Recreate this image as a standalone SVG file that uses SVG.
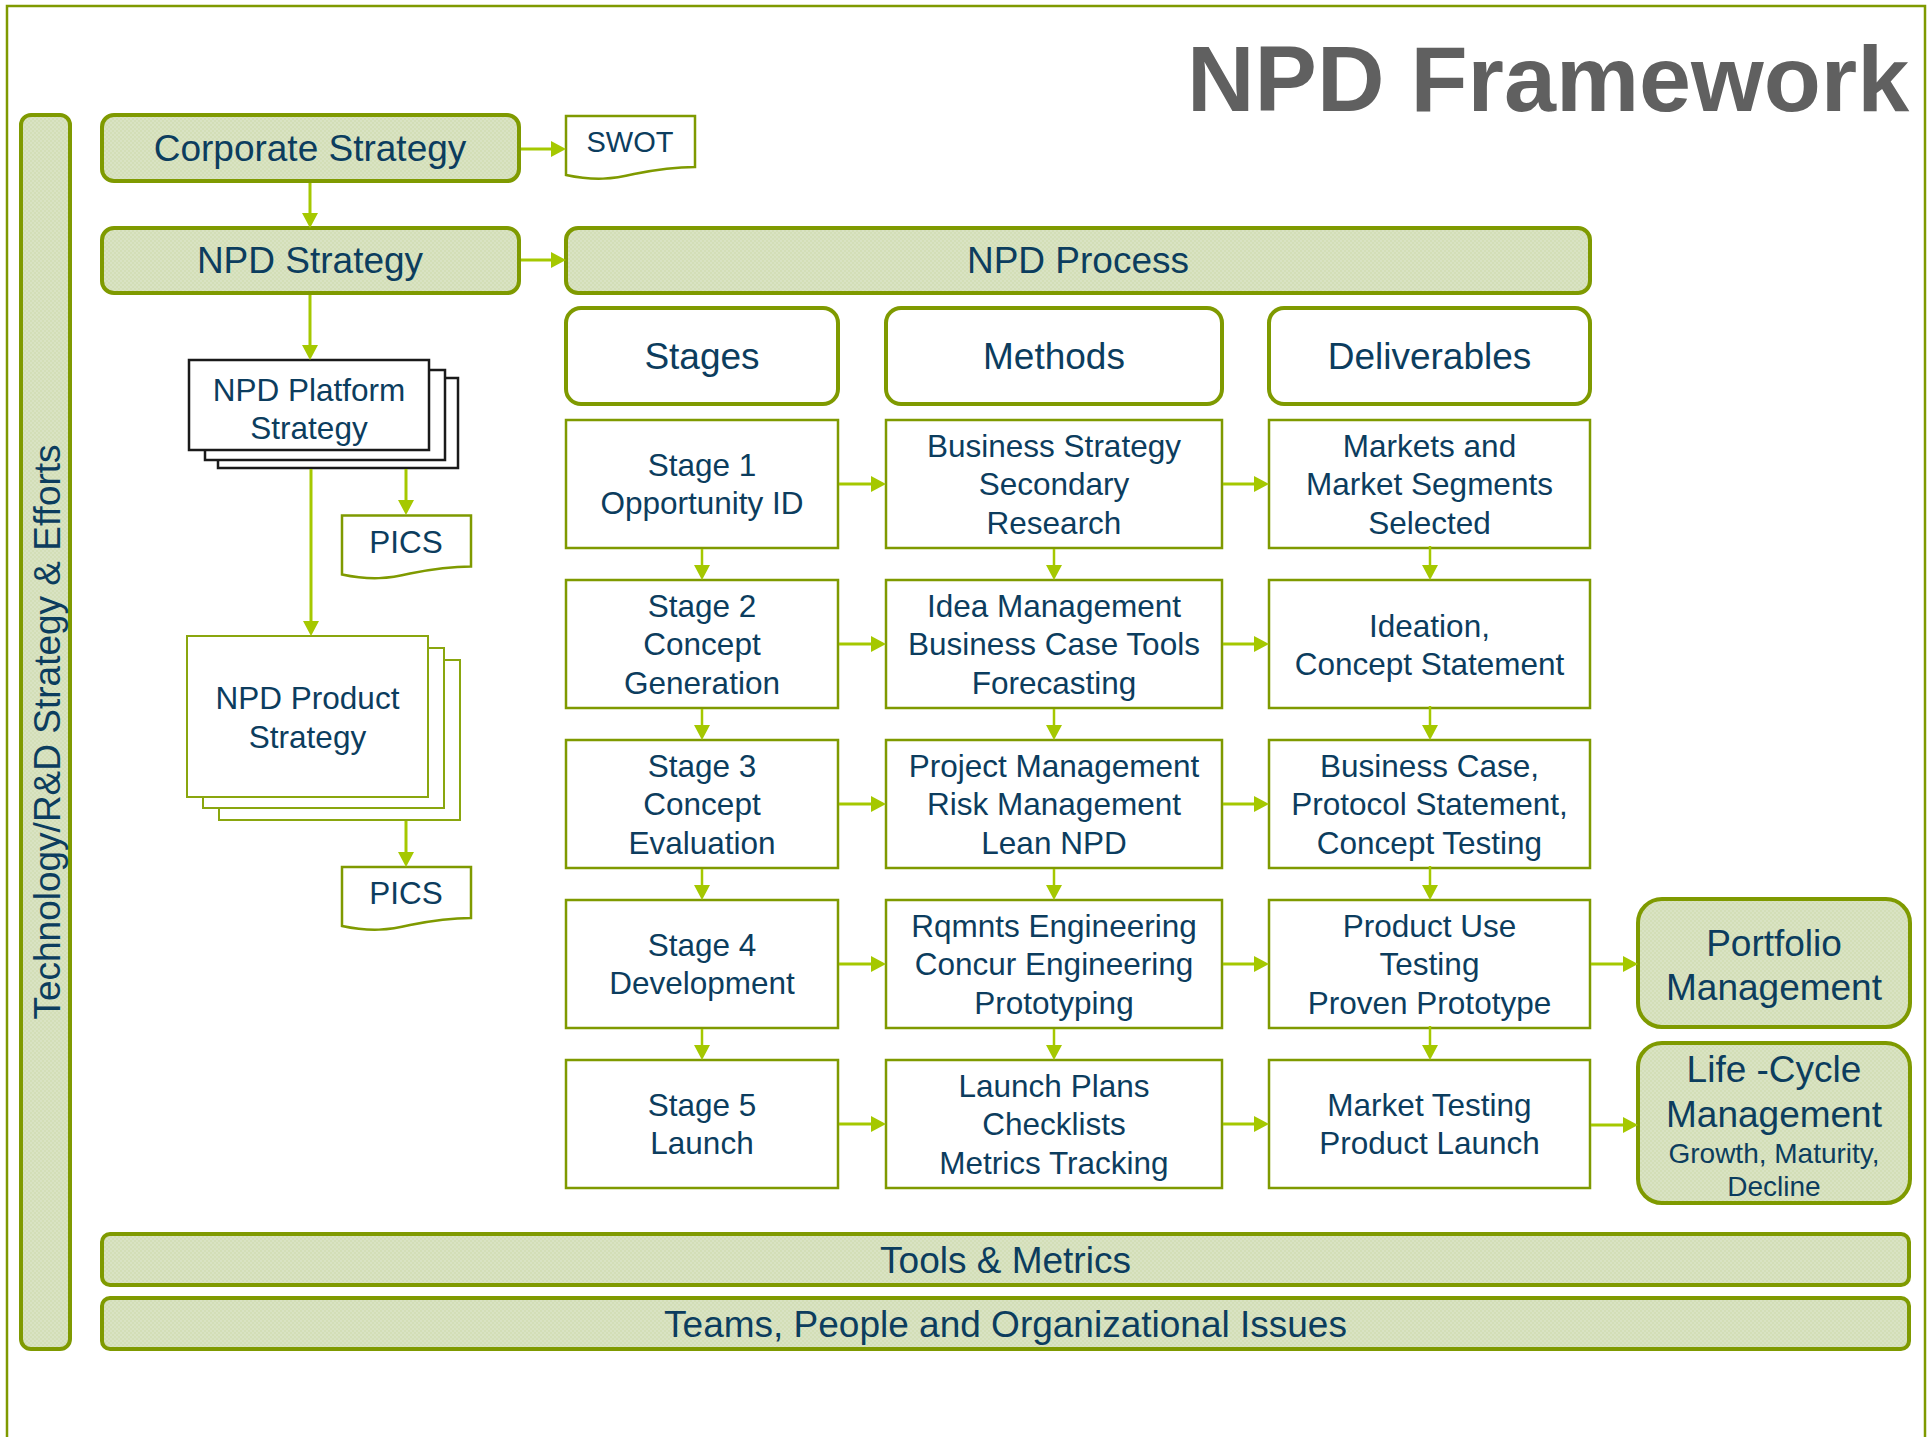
<svg xmlns="http://www.w3.org/2000/svg" width="1931" height="1437" viewBox="0 0 1931 1437">
  <defs>
    <!-- fine two-tone texture used by the sage filled boxes -->
    <pattern id="sage" width="4" height="4" patternUnits="userSpaceOnUse">
      <rect width="4" height="4" fill="#d3deb7"/>
      <rect width="2" height="2" fill="#d9e3c3"/>
      <rect x="2" y="2" width="2" height="2" fill="#d9e3c3"/>
    </pattern>
    <marker id="arrow" markerUnits="userSpaceOnUse" markerWidth="16" markerHeight="16" refX="0" refY="8" orient="auto" overflow="visible">
      <path d="M0,0 L15,8 L0,16 Z" fill="#a5c800"/>
    </marker>
    <!-- document shape with a wavy bottom edge -->
    <path id="doc" d="M0,0 H129 V51 C108,51 88,54 68,58 C48,63 28,65 0,59 Z"/>
  </defs>
  <style>
    text { font-family: "Liberation Sans", Arial, sans-serif; fill: #0c3d5e; text-anchor: middle; }
    .band { fill: url(#sage); stroke: #7f9a00; stroke-width: 4; }
    .head { fill: #ffffff; stroke: #7f9a00; stroke-width: 4; }
    .cell { fill: #ffffff; stroke: #7f9a00; stroke-width: 2.5; }
    .doc { fill: #ffffff; stroke: #7f9a00; stroke-width: 2.5; }
    .stack { fill: #ffffff; stroke: #1a1a1a; stroke-width: 2.5; }
    .stackg { fill: #ffffff; stroke: #8aa60e; stroke-width: 2; }
    .lg { font-size: 37px; }
    .md { font-size: 31.5px; }
    .sm { font-size: 28px; }
    .conn line { stroke: #a5c800; stroke-width: 3; marker-end: url(#arrow); }
    .conn line.thin { stroke-width: 2.5; }
  </style>

  <rect width="1931" height="1437" fill="#ffffff"/>

  <!-- outer frame, open at the bottom -->
  <path d="M7,1440 V6 H1925 V1440" fill="none" stroke="#7f9a00" stroke-width="2.5"/>

  <text id="title" x="1187" y="111" style="font-size:93.5px;font-weight:bold;fill:#606060;text-anchor:start">NPD Framework</text>

  <g id="tech-bar">
    <rect class="band" x="21" y="115" width="49" height="1234" rx="10"/>
    <text class="lg" transform="translate(60,732) rotate(-90)">Technology/R&amp;D Strategy &amp; Efforts</text>
  </g>

  <g id="corporate-strategy">
    <rect class="band" x="102" y="115" width="417" height="66" rx="12"/>
    <text class="lg" x="310" y="161">Corporate Strategy</text>
  </g>

  <g id="swot">
    <use href="#doc" class="doc" x="566" y="116"/>
    <text x="630" y="152" style="font-size:29px">SWOT</text>
  </g>

  <g id="npd-strategy">
    <rect class="band" x="102" y="228" width="417" height="65" rx="12"/>
    <text class="lg" x="310" y="273">NPD Strategy</text>
  </g>

  <g id="npd-process">
    <rect class="band" x="566" y="228" width="1024" height="65" rx="12"/>
    <text class="lg" x="1078" y="273">NPD Process</text>
  </g>

  <g id="platform-strategy">
    <rect class="stack" x="218" y="378" width="240" height="90"/>
    <rect class="stack" x="205" y="370" width="240" height="90"/>
    <rect class="stack" x="189" y="360" width="240" height="90"/>
    <text class="md" x="309" y="401">NPD Platform</text>
    <text class="md" x="309" y="439">Strategy</text>
  </g>

  <g id="pics-platform">
    <use href="#doc" class="doc" x="342" y="515.5"/>
    <text class="md" x="406" y="553">PICS</text>
  </g>

  <g id="product-strategy">
    <rect class="stackg" x="219" y="660" width="241" height="160"/>
    <rect class="stackg" x="203" y="648" width="241" height="160"/>
    <rect class="stackg" x="187" y="636" width="241" height="161"/>
    <text class="md" x="307.5" y="709">NPD Product</text>
    <text class="md" x="307.5" y="748">Strategy</text>
  </g>

  <g id="pics-product">
    <use href="#doc" class="doc" x="342" y="867"/>
    <text class="md" x="406" y="904">PICS</text>
  </g>

  <!-- column headings -->
  <g id="stages-head">
    <rect class="head" x="566" y="308" width="272" height="96" rx="15"/>
    <text class="lg" x="702" y="369">Stages</text>
  </g>
  <g id="methods-head">
    <rect class="head" x="886" y="308" width="336" height="96" rx="15"/>
    <text class="lg" x="1054" y="369">Methods</text>
  </g>
  <g id="deliverables-head">
    <rect class="head" x="1269" y="308" width="321" height="96" rx="15"/>
    <text class="lg" x="1429.5" y="369">Deliverables</text>
  </g>

  <!-- row 1 -->
  <g id="stage-1">
    <rect class="cell" x="566" y="420" width="272" height="128"/>
    <text class="md" x="702" y="476">Stage 1</text>
    <text class="md" x="702" y="514">Opportunity ID</text>
  </g>
  <g id="methods-1">
    <rect class="cell" x="886" y="420" width="336" height="128"/>
    <text class="md" x="1054" y="457">Business Strategy</text>
    <text class="md" x="1054" y="495">Secondary</text>
    <text class="md" x="1054" y="534">Research</text>
  </g>
  <g id="deliverables-1">
    <rect class="cell" x="1269" y="420" width="321" height="128"/>
    <text class="md" x="1429.5" y="457">Markets and</text>
    <text class="md" x="1429.5" y="495">Market Segments</text>
    <text class="md" x="1429.5" y="534">Selected</text>
  </g>

  <!-- row 2 -->
  <g id="stage-2">
    <rect class="cell" x="566" y="580" width="272" height="128"/>
    <text class="md" x="702" y="617">Stage 2</text>
    <text class="md" x="702" y="655">Concept</text>
    <text class="md" x="702" y="694">Generation</text>
  </g>
  <g id="methods-2">
    <rect class="cell" x="886" y="580" width="336" height="128"/>
    <text class="md" x="1054" y="617">Idea Management</text>
    <text class="md" x="1054" y="655">Business Case Tools</text>
    <text class="md" x="1054" y="694">Forecasting</text>
  </g>
  <g id="deliverables-2">
    <rect class="cell" x="1269" y="580" width="321" height="128"/>
    <text class="md" x="1429.5" y="637">Ideation,</text>
    <text class="md" x="1429.5" y="675">Concept Statement</text>
  </g>

  <!-- row 3 -->
  <g id="stage-3">
    <rect class="cell" x="566" y="740" width="272" height="128"/>
    <text class="md" x="702" y="777">Stage 3</text>
    <text class="md" x="702" y="815">Concept</text>
    <text class="md" x="702" y="854">Evaluation</text>
  </g>
  <g id="methods-3">
    <rect class="cell" x="886" y="740" width="336" height="128"/>
    <text class="md" x="1054" y="777">Project Management</text>
    <text class="md" x="1054" y="815">Risk Management</text>
    <text class="md" x="1054" y="854">Lean NPD</text>
  </g>
  <g id="deliverables-3">
    <rect class="cell" x="1269" y="740" width="321" height="128"/>
    <text class="md" x="1429.5" y="777">Business Case,</text>
    <text class="md" x="1429.5" y="815">Protocol Statement,</text>
    <text class="md" x="1429.5" y="854">Concept Testing</text>
  </g>

  <!-- row 4 -->
  <g id="stage-4">
    <rect class="cell" x="566" y="900" width="272" height="128"/>
    <text class="md" x="702" y="956">Stage 4</text>
    <text class="md" x="702" y="994">Development</text>
  </g>
  <g id="methods-4">
    <rect class="cell" x="886" y="900" width="336" height="128"/>
    <text class="md" x="1054" y="937">Rqmnts Engineering</text>
    <text class="md" x="1054" y="975">Concur Engineering</text>
    <text class="md" x="1054" y="1014">Prototyping</text>
  </g>
  <g id="deliverables-4">
    <rect class="cell" x="1269" y="900" width="321" height="128"/>
    <text class="md" x="1429.5" y="937">Product Use</text>
    <text class="md" x="1429.5" y="975">Testing</text>
    <text class="md" x="1429.5" y="1014">Proven Prototype</text>
  </g>

  <!-- row 5 -->
  <g id="stage-5">
    <rect class="cell" x="566" y="1060" width="272" height="128"/>
    <text class="md" x="702" y="1116">Stage 5</text>
    <text class="md" x="702" y="1154">Launch</text>
  </g>
  <g id="methods-5">
    <rect class="cell" x="886" y="1060" width="336" height="128"/>
    <text class="md" x="1054" y="1097">Launch Plans</text>
    <text class="md" x="1054" y="1135">Checklists</text>
    <text class="md" x="1054" y="1174">Metrics Tracking</text>
  </g>
  <g id="deliverables-5">
    <rect class="cell" x="1269" y="1060" width="321" height="128"/>
    <text class="md" x="1429.5" y="1116">Market Testing</text>
    <text class="md" x="1429.5" y="1154">Product Launch</text>
  </g>

  <g id="portfolio-management">
    <rect class="band" x="1638" y="899" width="272" height="128" rx="24"/>
    <text class="lg" x="1774" y="956">Portfolio</text>
    <text class="lg" x="1774" y="1000">Management</text>
  </g>

  <g id="life-cycle-management">
    <rect class="band" x="1638" y="1043" width="272" height="160" rx="24"/>
    <text class="lg" x="1774" y="1082">Life -Cycle</text>
    <text class="lg" x="1774" y="1127">Management</text>
    <text class="sm" x="1774" y="1163">Growth, Maturity,</text>
    <text class="sm" x="1774" y="1196">Decline</text>
  </g>

  <g id="tools-metrics">
    <rect class="band" x="102" y="1234" width="1807" height="51" rx="8"/>
    <text class="lg" x="1005.5" y="1273">Tools &amp; Metrics</text>
  </g>

  <g id="teams-people">
    <rect class="band" x="102" y="1298" width="1807" height="51" rx="8"/>
    <text class="lg" x="1005.5" y="1337">Teams, People and Organizational Issues</text>
  </g>

  <!-- connectors: each line stops at the base of its arrowhead -->
  <g id="connectors" class="conn">
    <line x1="521" y1="149" x2="551" y2="149"/>
    <line x1="310" y1="183" x2="310" y2="213"/>
    <line x1="521" y1="260" x2="551" y2="260"/>
    <line x1="310" y1="295" x2="310" y2="345"/>
    <line x1="406" y1="469" x2="406" y2="500"/>
    <line x1="311" y1="469" x2="311" y2="621"/>
    <line x1="406" y1="821" x2="406" y2="852"/>

    <line x1="839" y1="484" x2="871" y2="484"/>
    <line x1="839" y1="644" x2="871" y2="644"/>
    <line x1="839" y1="804" x2="871" y2="804"/>
    <line x1="839" y1="964" x2="871" y2="964"/>
    <line x1="839" y1="1124" x2="871" y2="1124"/>

    <line x1="1223" y1="484" x2="1254" y2="484"/>
    <line x1="1223" y1="644" x2="1254" y2="644"/>
    <line x1="1223" y1="804" x2="1254" y2="804"/>
    <line x1="1223" y1="964" x2="1254" y2="964"/>
    <line x1="1223" y1="1124" x2="1254" y2="1124"/>

    <line x1="1591" y1="964" x2="1623" y2="964"/>
    <line x1="1591" y1="1125" x2="1623" y2="1125"/>

    <line class="thin" x1="702" y1="549" x2="702" y2="565"/>
    <line class="thin" x1="702" y1="709" x2="702" y2="725"/>
    <line class="thin" x1="702" y1="869" x2="702" y2="885"/>
    <line class="thin" x1="702" y1="1029" x2="702" y2="1045"/>

    <line class="thin" x1="1054" y1="549" x2="1054" y2="565"/>
    <line class="thin" x1="1054" y1="709" x2="1054" y2="725"/>
    <line class="thin" x1="1054" y1="869" x2="1054" y2="885"/>
    <line class="thin" x1="1054" y1="1029" x2="1054" y2="1045"/>

    <line class="thin" x1="1430" y1="546" x2="1430" y2="565"/>
    <line class="thin" x1="1430" y1="706" x2="1430" y2="725"/>
    <line class="thin" x1="1430" y1="866" x2="1430" y2="885"/>
    <line class="thin" x1="1430" y1="1026" x2="1430" y2="1045"/>
  </g>
</svg>
